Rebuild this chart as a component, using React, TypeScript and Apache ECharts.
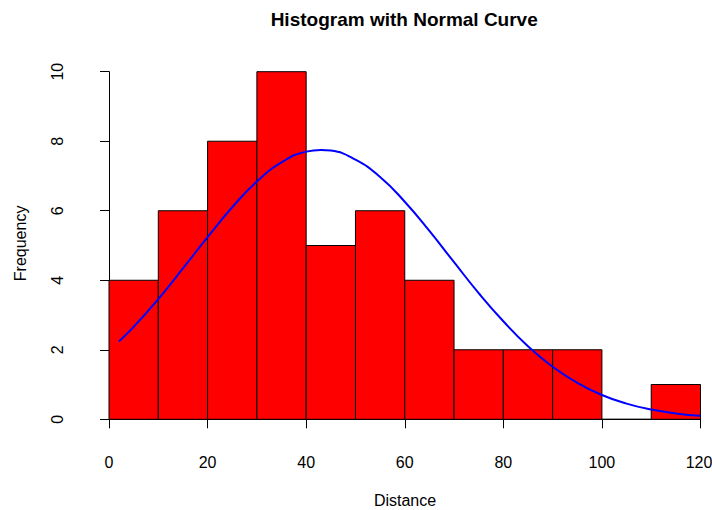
import React, { useEffect, useRef } from "react";
import * as echarts from "echarts";

// Histogram bins (left edge, right edge) and counts
const binStarts = [0, 10, 20, 30, 40, 50, 60, 70, 80, 90, 100, 110];
const binEnds = [10, 20, 30, 40, 50, 60, 70, 80, 90, 100, 110, 120];
const counts = [4, 6, 8, 10, 5, 6, 4, 2, 2, 2, 0, 1];

// Fitted normal curve, scaled to frequency
const curveX = [2, 5, 10, 15, 20, 25, 30, 35, 40, 43, 45, 50, 55, 60, 65, 70, 75, 80, 85, 90, 95, 100, 105, 110, 115, 120];
const curveY = [2.24, 2.66, 3.46, 4.34, 5.24, 6.1, 6.84, 7.39, 7.7, 7.75, 7.73, 7.47, 6.97, 6.26, 5.42, 4.52, 3.63, 2.82, 2.1, 1.51, 1.05, 0.7, 0.45, 0.28, 0.17, 0.1];

const xTicks = [0, 20, 40, 60, 80, 100, 120];
const yTicks = [0, 2, 4, 6, 8, 10];

const FONT = '"Liberation Sans", Arial, Helvetica, sans-serif';

export default function App() {
  const ref = useRef<HTMLDivElement>(null);

  useEffect(() => {
    if (!ref.current) return;
    const chart = echarts.init(ref.current, undefined, { renderer: "svg" });

    const bars = binStarts.map((s, i) => [s, binEnds[i], counts[i]]);
    const curve = curveX.map((x, i) => [x, curveY[i]]);
    const xMax = xTicks[xTicks.length - 1];

    chart.setOption({
      animation: false,
      backgroundColor: "#ffffff",
      textStyle: { fontFamily: FONT },
      grid: {
        left: 109,
        right: 11.5,
        top: 71.7,
        bottom: 90.7,
        containLabel: false,
        outerBoundsMode: "none",
      },
      xAxis: {
        type: "value",
        min: xTicks[0],
        max: xMax,
        interval: xTicks[1] - xTicks[0],
        offset: 14,
        splitLine: { show: false },
        axisLine: { show: true, lineStyle: { color: "#000", width: 1 } },
        axisTick: { show: true, length: 9, lineStyle: { color: "#000", width: 1 } },
        axisLabel: {
          color: "#000",
          fontSize: 16,
          fontFamily: FONT,
          margin: 21,
          // keep the last label inside the right edge of the canvas
          formatter: (v: number) => (v === xMax ? `{edge|${v}}` : `${v}`),
          rich: {
            edge: { color: "#000", fontSize: 16, fontFamily: FONT, padding: [0, 3, 0, 0] },
          },
        },
      },
      yAxis: {
        type: "value",
        min: yTicks[0],
        max: yTicks[yTicks.length - 1],
        interval: yTicks[1] - yTicks[0],
        offset: 24,
        splitLine: { show: false },
        axisLine: { show: true, lineStyle: { color: "#000", width: 1 } },
        axisTick: { show: true, length: 9, lineStyle: { color: "#000", width: 1 } },
        axisLabel: { color: "#000", fontSize: 16, fontFamily: FONT, margin: 20, rotate: 90 },
      },
      graphic: [
        {
          type: "text",
          x: 404.2,
          y: 19.2,
          style: {
            text: "Histogram with Normal Curve",
            font: `bold 19px ${FONT}`,
            fill: "#000",
            align: "center",
            verticalAlign: "middle",
          },
        },
        {
          type: "text",
          x: 405,
          y: 500,
          style: {
            text: "Distance",
            font: `16px ${FONT}`,
            fill: "#000",
            align: "center",
            verticalAlign: "middle",
          },
        },
        {
          type: "text",
          x: 20.7,
          y: 243.4,
          rotation: Math.PI / 2,
          style: {
            text: "Frequency",
            font: `16px ${FONT}`,
            fill: "#000",
            align: "center",
            verticalAlign: "middle",
          },
        },
      ],
      series: [
        {
          type: "custom",
          data: bars,
          encode: { x: [0, 1], y: 2 },
          renderItem: (params: any, api: any) => {
            const x0 = api.value(0);
            const x1 = api.value(1);
            const c = api.value(2);
            const p0 = api.coord([x0, c]);
            const p1 = api.coord([x1, 0]);
            return {
              type: "rect",
              shape: { x: p0[0], y: p0[1], width: p1[0] - p0[0], height: p1[1] - p0[1] },
              style: { fill: "#ff0000", stroke: "#000000", lineWidth: 1 },
            };
          },
        },
        {
          type: "line",
          data: curve,
          smooth: true,
          showSymbol: false,
          symbol: "none",
          lineStyle: { color: "#0000ff", width: 2 },
          z: 5,
        },
      ],
    });

    return () => chart.dispose();
  }, []);

  return (
    <div
      ref={ref}
      style={{ position: "fixed", left: 0, top: 0, width: 712, height: 510, background: "#fff" }}
    />
  );
}
